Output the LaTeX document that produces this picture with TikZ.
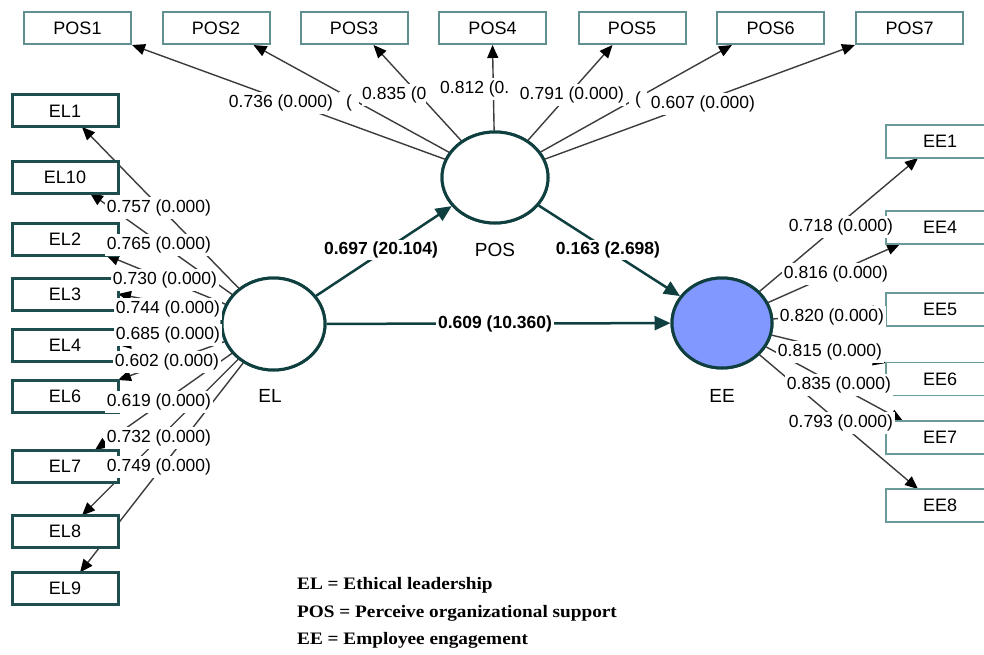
\documentclass[tikz,border=0pt]{standalone}
\usepackage{fontspec}
\setmainfont{Liberation Sans}
\newfontfamily\legserif[FakeStretch=1.1]{Liberation Serif}
\usetikzlibrary{arrows.meta,shapes.geometric,calc}
\definecolor{latdark}{HTML}{0F3F3F}
\definecolor{eldark}{HTML}{1E4E4E}
\definecolor{boxteal}{HTML}{5F8F8F}
\definecolor{eeteal}{HTML}{6A9A9A}
\definecolor{eefill}{HTML}{8098FF}
\definecolor{linegray}{HTML}{3C3C3C}
\newcommand\ftbox{\fontsize{18}{20}\selectfont}
\newcommand\ftlab{\fontsize{17.5}{19}\selectfont}
\newcommand\ftlat{\fontsize{19}{21}\selectfont}
\newcommand\ftleg{\fontsize{17.5}{19}\selectfont}
\tikzset{
  posbox/.style={draw=boxteal, line width=2pt, fill=white, minimum width=107pt, minimum height=32pt, inner sep=0pt, font=\ftbox},
  elbox/.style={posbox, draw=eldark, line width=3pt, minimum width=106pt},
  eebox/.style={posbox, draw=eeteal, line width=1.8pt, minimum width=108pt, minimum height=33pt},
  lat/.style={ellipse, draw=latdark, line width=3pt, fill=white, inner sep=0pt},
  load/.style={draw=linegray, line width=1.4pt, -{Triangle[length=13pt,width=11pt,color=black]}},
  lab/.style={fill=white, inner xsep=2pt, inner ysep=3pt, font=\ftlab},
  pathar/.style={draw=latdark, line width=2.5pt, -{Triangle[length=16pt,width=14pt]}},
  plab/.style={fill=white, inner xsep=2pt, inner ysep=2pt, font=\ftlab\bfseries},
  latname/.style={font=\ftlat},
  legend/.style={anchor=west, inner sep=0pt, font=\ftleg\legserif\bfseries},
}
\begin{document}
\begin{tikzpicture}[x=1pt, y=-1pt]
\clip (0,0) rectangle (984,655);
\fill[white] (0,0) rectangle (984,655);

% latent variables (placed first for anchors)
\node[lat, minimum width=106pt, minimum height=91pt] (POS) at (495,177.5) {};
\node[lat, minimum width=103pt, minimum height=92pt] (EL) at (273.5,324) {};
\node[lat, fill=eefill, minimum width=100pt, minimum height=90pt] (EE) at (722,323) {};

% POS indicator boxes
\path
  node[posbox] (POS1) at (77.5,28) {POS1}
  node[posbox] (POS2) at (216,28) {POS2}
  node[posbox] (POS3) at (354,28) {POS3}
  node[posbox] (POS4) at (492.5,28) {POS4}
  node[posbox] (POS5) at (632,28) {POS5}
  node[posbox] (POS6) at (770.5,28) {POS6}
  node[posbox] (POS7) at (909.5,28) {POS7};

% arrows to indicators
\draw[load] (POS) -- (POS1.south east);
\draw[load] (POS) -- ($(POS2.south east)+(-17,0)$);
\draw[load] (POS) -- ($(POS3.south east)+(-35,0)$);
\draw[load] (POS) -- (POS4.south);
\draw[load] (POS) -- ($(POS5.south west)+(35,0)$);
\draw[load] (POS) -- ($(POS6.south west)+(16,0)$);
\draw[load] (POS) -- (POS7.south west);

\coordinate (t1) at (82,127);
\coordinate (t10) at (90,193);
\coordinate (t2) at (106,255);
\coordinate (t3) at (118,294);
\coordinate (t4) at (118,345);
\coordinate (t6) at (118,380);
\coordinate (t7) at (95,450);
\coordinate (t8) at (82,515.5);
\coordinate (t9) at (80,572.5);
\draw[load] (EL) -- (t1);
\draw[load] (EL) -- (t10);
\draw[load] (EL) -- (t2);
\draw[load] (EL) -- (t3);
\draw[load] (EL) -- (t4);
\draw[load] (EL) -- (t6);
\draw[load] (EL) -- (t7);
\draw[load] (EL) -- (t8);
\draw[load] (EL) -- (t9);

\coordinate (u1) at (918,158);
\coordinate (u4) at (900,244);
\coordinate (u5) at (886,310);
\coordinate (u6) at (886,363);
\coordinate (u7) at (903,421);
\coordinate (u8) at (918,489);
\draw[load] (EE) -- (u1);
\draw[load] (EE) -- (u4);
\draw[load] (EE) -- (u5);
\draw[load] (EE) -- (u6);
\draw[load] (EE) -- (u7);
\draw[load] (EE) -- (u8);

% EL indicator boxes
\node[elbox] (EL1) at (65,111) {EL1};
\node[elbox] (EL10) at (65,177.5) {EL10};
\node[elbox] (EL2) at (65,239) {EL2};
\node[elbox] (EL3) at (65,294) {EL3};
\node[elbox] (EL4) at (65,345) {EL4};
\node[elbox] (EL6) at (65,396.5) {EL6};
\node[elbox] (EL7) at (65,466) {EL7};
\node[elbox] (EL8) at (65,531.5) {EL8};
\node[elbox] (EL9) at (65,588.5) {EL9};

% EE indicator boxes
\node[eebox] (EE1) at (940,141.5) {EE1};
\node[eebox] (EE4) at (940,227.5) {EE4};
\node[eebox] (EE5) at (940,309.5) {EE5};
\node[eebox] (EE6) at (940,379) {EE6};
\node[eebox] (EE7) at (940,437.5) {EE7};
\node[eebox] (EE8) at (940,505.5) {EE8};

% redraw latent variables on top
\node[lat, minimum width=106pt, minimum height=91pt] (POSb) at (495,177.5) {};
\node[lat, minimum width=103pt, minimum height=92pt] (ELb) at (273.5,324) {};
\node[lat, fill=eefill, minimum width=100pt, minimum height=90pt] (EEb) at (722,323) {};

% structural paths
\draw[pathar] (EL) -- (POS);
\draw[pathar] (POS) -- (EE);
\draw[pathar] (EL) -- (EE);

% latent names
\node[latname] (nPOS) at (495,250) {POS};
\node[latname] (nEL) at (270,396) {EL};
\node[latname] (nEE) at (722,396) {EE};

% structural labels
\node[plab] (p1) at (381,250) {0.697 (20.104)};
\node[plab] (p2) at (608,250) {0.163 (2.698)};
\node[plab] (p3) at (495,324) {0.609 (10.360)};

% POS loadings
\node[lab, inner xsep=7pt] (a2) at (349,103) {(};
\node[lab] (a1) at (281,103) {0.736 (0.000)};
\node[lab, anchor=west, inner xsep=0pt] (a3) at (362,95) {0.835 (0\hspace{14pt}};
\node[lab, anchor=west, inner xsep=0pt] (a4) at (440,89) {0.812 (0.};
\node[lab] (a5) at (572,95) {0.791 (0.000)};
\node[lab, inner xsep=6pt] (a6) at (638,100) {(};
\node[lab] (a7) at (703,104) {0.607 (0.000)};

% EL loadings
\node[lab] (b1) at (159,208) {0.757 (0.000)};
\node[lab] (b10) at (159,245) {0.765 (0.000)};
\node[lab] (b2) at (165,280) {0.730 (0.000)};
\node[lab] (b3) at (168,309) {0.744 (0.000)};
\node[lab] (b4) at (168,335) {0.685 (0.000)};
\node[lab] (b6) at (167,362) {0.602 (0.000)};
\node[lab] (b7) at (159,402) {0.619 (0.000)};
\node[lab] (b8) at (159,438) {0.732 (0.000)};
\node[lab] (b9) at (159,467) {0.749 (0.000)};

% EE loadings
\node[lab] (c1) at (841,227) {0.718 (0.000)};
\node[lab] (c4) at (836,274) {0.816 (0.000)};
\node[lab] (c5) at (832,317) {0.820 (0.000)};
\node[lab] (c6) at (830,352) {0.815 (0.000)};
\node[lab] (c7) at (839,385) {0.835 (0.000)};
\node[lab] (c8) at (841,423) {0.793 (0.000)};

% legend
\node[legend] (g1) at (297,585) {EL = Ethical leadership};
\node[legend] (g2) at (297,613) {POS = Perceive organizational support};
\node[legend] (g3) at (297,640) {EE = Employee engagement};
\end{tikzpicture}
\end{document}
